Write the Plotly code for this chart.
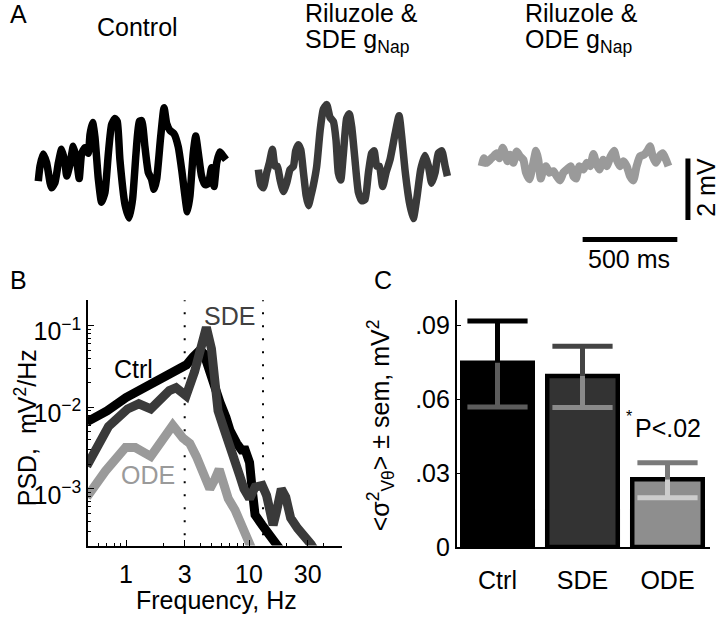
import plotly.graph_objects as go

W, H = 720, 631
FONT = "Liberation Sans, Arial, Helvetica, sans-serif"

# ---------- panel A: membrane voltage traces (ms, mV) ----------
ctrl_t = [0, 9, 26, 44, 62, 70, 88, 106, 123, 141, 150, 167, 185, 202, 216, 229, 246, 264, 273, 287,
          299, 317, 334, 352, 370, 387, 405, 417, 431, 458, 480, 498, 516, 533, 546, 563, 581, 598,
          611, 625, 646, 664, 678, 695, 716, 739, 757, 774, 787, 801, 818, 831, 845, 862, 880, 898,
          915, 928, 942, 959, 977, 991]
ctrl_v = [-0.48, 0.0, 0.40, 0.11, -0.53, -0.70, -0.53, 0.11, 0.55, 0.11, -0.32, 0.05, 0.65, 0.21, -0.40,
          0.42, 0.60, 0.42, 1.03, 1.42, 0.95, -0.42, -1.17, -0.85, 0.42, 1.35, 1.55, 1.45, 0.21, -1.25,
          -1.68, -1.06, 0.42, 1.45, 1.48, 0.63, -0.21, -0.42, -0.75, -0.42, 0.95, 1.90, 1.38, 1.16, 1.06,
          0.63, -0.11, -0.95, -1.48, -0.95, 0.42, 0.98, 0.42, -0.32, -0.60, -0.56, -0.05, -0.66, 0.11,
          0.46, 0.32, 0.21]

sde_t = [0, 12, 26, 44, 58, 74, 88, 100, 114, 132, 150, 167, 185, 197, 211, 224, 238, 252, 264, 278,
         290, 308, 326, 343, 361, 378, 396, 410, 422, 435, 449, 466, 480, 493, 510, 528, 546, 563, 581,
         598, 611, 625, 639, 656, 674, 695, 722, 743, 757, 774, 797, 818, 836, 857, 880, 898, 915, 933,
         950, 968, 986, 998]
sde_v = [-0.11, -0.60, -0.70, -0.21, 0.11, 0.55, 0.0, 0.0, -0.42, -0.82, -0.53, -0.11, 0.0, 0.50, 0.70,
         0.53, -0.21, -0.95, -1.28, -0.95, -0.63, 0.0, 1.16, 1.85, 2.0, 1.59, 1.45, 0.85, -0.21, -0.45,
         0.42, 1.55, 1.70, 1.27, 0.21, -0.85, -1.12, -1.08, -0.21, 0.42, 0.50, 0.0, 0.0, -0.66, -0.21,
         0.21, 1.06, 1.64, 0.95, -0.11, -1.16, -1.70, -1.06, -0.11, 0.35, 0.0, -0.55, -0.21, 0.42, 0.50,
         0.0, -0.32]

ode_t = [0, 12, 26, 44, 62, 79, 93, 111, 123, 136, 150, 167, 185, 202, 220, 234, 252, 269, 287, 299,
         312, 326, 340, 357, 378, 396, 414, 431, 449, 470, 484, 498, 516, 537, 554, 572, 590, 604, 621,
         642, 660, 681, 699, 713, 730, 748, 766, 783, 801, 818, 836, 857, 875, 889, 903, 920, 938, 956,
         973, 986]
ode_v = [0.0, 0.26, 0.11, 0.21, 0.32, 0.42, 0.26, 0.60, 0.42, 0.16, 0.37, 0.11, 0.48, 0.32, 0.21, -0.21,
         -0.42, 0.0, 0.50, 0.21, -0.40, -0.11, 0.0, -0.21, -0.16, -0.32, -0.46, -0.21, -0.11, 0.0, -0.32,
         -0.40, 0.0, -0.11, 0.11, 0.0, 0.40, 0.11, -0.11, 0.21, 0.0, 0.32, 0.50, 0.21, 0.0, 0.16, 0.0,
         -0.32, -0.46, 0.0, 0.32, 0.37, 0.50, 0.65, 0.32, 0.11, 0.32, 0.42, 0.21, 0.0]

# ---------- panel B: power spectral density (Hz, mV^2/Hz) ----------
ctrl_f = [0.48, 0.7, 1.0, 1.4, 1.75, 2.2, 2.7, 3.1, 3.5, 4.0, 4.3, 4.7, 5.1, 5.8, 6.5, 7.0, 7.95, 8.7,
          9.3, 10.1, 10.6, 11.2, 12.8, 14.9, 18.0]
ctrl_psd = [6.6e-3, 9e-3, 1.31e-2, 1.7e-2, 2.08e-2, 2.5e-2, 2.87e-2, 3.3e-2, 4.1e-2, 5.0e-2, 4.5e-2,
            3.0e-2, 1.8e-2, 1.15e-2, 7.5e-3, 5.2e-3, 3.6e-3, 3.0e-3, 3.0e-3, 2.1e-3, 1.0e-3, 4.8e-4,
            3.6e-4, 2.75e-4, 1.8e-4]

sde_f = [0.48, 0.72, 1.03, 1.27, 1.59, 2.0, 2.25, 2.55, 3.08, 3.61, 4.09, 4.5, 4.95, 5.27, 5.6, 6.17,
         7.0, 7.95, 8.4, 9.1, 10.1, 11.2, 12.8, 13.9, 14.8, 15.7, 16.7, 18.3, 19.9, 21.8, 24.8, 28.1,
         31.9, 34.0]
sde_psd = [1.9e-3, 5.8e-3, 9.5e-3, 1.1e-2, 9.5e-3, 1.3e-2, 1.6e-2, 1.73e-2, 1.38e-2, 2.73e-2, 6.3e-2,
           9.5e-2, 5.2e-2, 1.6e-2, 9e-3, 5.8e-3, 3.4e-3, 2.2e-3, 1.45e-3, 1.0e-3, 7.6e-4, 1.05e-3,
           1.1e-3, 8.3e-4, 4.4e-4, 3.6e-4, 5.2e-4, 1.0e-3, 7.9e-4, 4.4e-4, 3.3e-4, 2.75e-4, 2.1e-4,
           1.8e-4]

ode_f = [0.48, 0.68, 0.99, 1.19, 1.59, 1.99, 2.4, 2.9, 3.3, 3.73, 4.23, 4.8, 5.27, 5.72, 6.17, 6.78,
         7.7, 8.7, 9.7, 10.6]
ode_psd = [7.9e-4, 1.65e-3, 3.2e-3, 3.2e-3, 2.5e-3, 4.0e-3, 6.0e-3, 4.2e-3, 3.6e-3, 2.5e-3, 1.5e-3,
           1.0e-3, 1.3e-3, 1.74e-3, 1.2e-3, 7.6e-4, 5.5e-4, 3.8e-4, 2.75e-4, 1.8e-4]

theta_band = [3, 13]

# ---------- panel C: variance bars ----------
groups = ["Ctrl", "SDE", "ODE"]
var_mean = [0.0749, 0.0695, 0.0275]
sem_up = [0.0169, 0.0121, 0.0067]
sem_down = [0.0180, 0.0128, 0.0075]

scale_ms, scale_mv = 500, 2

# styles
trace_cols = ["#000000", "#3a3a3a", "#9a9a9a"]
bar_cols = ["#000000", "#333333", "#8e8e8e"]
err_up_cols = ["#000000", "#444444", "#7a7a7a"]
err_lo_cols = ["#5c5c5c", "#8a8a8a", "#cccccc"]


def px(x):
    return x / W


def py(y):
    return 1 - y / H


fig = go.Figure()

# A traces
offsets = [0, 1162, 2341]
for t, v, off, c, w in zip([ctrl_t, sde_t, ode_t], [ctrl_v, sde_v, ode_v], offsets, trace_cols, [7.5, 7.5, 8]):
    fig.add_trace(go.Scatter(x=[ti + off for ti in t], y=v, mode="lines",
                             line=dict(color=c, width=w, shape="spline", smoothing=0.5),
                             xaxis="x", yaxis="y", showlegend=False))

# scale bars
bar_t0, bar_v0 = 2874, -2.38
fig.add_trace(go.Scatter(x=[bar_t0, bar_t0 + scale_ms], y=[bar_v0, bar_v0], mode="lines",
                         line=dict(color="black", width=5), xaxis="x", yaxis="y", showlegend=False))
fig.add_trace(go.Scatter(x=[3430, 3430], y=[-1.75, -1.75 + scale_mv], mode="lines",
                         line=dict(color="black", width=5), xaxis="x", yaxis="y", showlegend=False))

# B: dotted band lines
for f in theta_band:
    fig.add_trace(go.Scatter(x=[f, f], y=[1e-5, 1], mode="lines",
                             line=dict(color="black", width=2, dash="2px,11px"),
                             xaxis="x2", yaxis="y2", showlegend=False))

for f, p, c in [(ode_f, ode_psd, trace_cols[2]), (ctrl_f, ctrl_psd, trace_cols[0]),
                (sde_f, sde_psd, trace_cols[1])]:
    fig.add_trace(go.Scatter(x=f, y=p, mode="lines", line=dict(color=c, width=9),
                             xaxis="x2", yaxis="y2", showlegend=False))

# C: bars
fig.add_trace(go.Bar(x=groups, y=var_mean, width=0.83,
                     marker=dict(color=bar_cols, line=dict(color="black", width=4.5)),
                     xaxis="x3", yaxis="y3", showlegend=False))

for i, g in enumerate(groups):
    # upper stem + cap
    fig.add_trace(go.Scatter(x=[g], y=[var_mean[i]], mode="markers", marker=dict(size=1, opacity=0),
                             error_y=dict(type="data", symmetric=False, array=[sem_up[i]], arrayminus=[0],
                                          color=err_up_cols[i], thickness=5, width=0),
                             xaxis="x3", yaxis="y3", showlegend=False))
    fig.add_trace(go.Scatter(x=[g], y=[var_mean[i] + sem_up[i]], mode="markers",
                             marker=dict(symbol="line-ew", size=43,
                                         line=dict(color=err_up_cols[i], width=5)),
                             xaxis="x3", yaxis="y3", showlegend=False))
    # lower stem + cap
    fig.add_trace(go.Scatter(x=[g], y=[var_mean[i]], mode="markers", marker=dict(size=1, opacity=0),
                             error_y=dict(type="data", symmetric=False, array=[0], arrayminus=[sem_down[i]],
                                          color=err_lo_cols[i], thickness=5, width=0),
                             xaxis="x3", yaxis="y3", showlegend=False))
    fig.add_trace(go.Scatter(x=[g], y=[var_mean[i] - sem_down[i]], mode="markers",
                             marker=dict(symbol="line-ew", size=43,
                                         line=dict(color=err_lo_cols[i], width=5)),
                             xaxis="x3", yaxis="y3", showlegend=False))

axis_common = dict(showline=True, linecolor="black", linewidth=1.5, ticks="inside", tickcolor="black",
                   ticklen=6, tickwidth=1.2, showgrid=False, zeroline=False,
                   tickfont=dict(family=FONT, size=25, color="black"))

fig.update_layout(
    width=W, height=H,
    margin=dict(l=0, r=0, t=0, b=0),
    paper_bgcolor="white", plot_bgcolor="rgba(0,0,0,0)",
    font=dict(family=FONT, size=25, color="black"),
    xaxis=dict(domain=[0, 1], range=[-202.2, 3599.3], visible=False, anchor="y"),
    yaxis=dict(domain=[py(290), py(60)], range=[-3.81, 3.492], visible=False, anchor="x"),
    xaxis2=dict(axis_common, type="log", domain=[px(88), px(342)], range=[-0.309, 1.756], anchor="y2",
                tickvals=[1, 3, 10, 30], ticktext=["1", "3", "10", "30"], ticklabelstandoff=6,
                minor=dict(ticks="inside", ticklen=3, tickcolor="black",
                           tickvals=[0.5, 0.6, 0.7, 0.8, 0.9, 2, 4, 5, 6, 7, 8, 9, 20, 40])),
    yaxis2=dict(axis_common, type="log", domain=[py(558), py(307)], range=[-3.695, -0.69], anchor="x2",
                tickvals=[1e-3, 1e-2, 1e-1], ticklabelshift=6,
                ticktext=["10<sup>\u22123</sup>", "10<sup>\u22122</sup>", "10<sup>\u22121</sup>"],
                minor=dict(ticks="inside", ticklen=3, tickcolor="black",
                           tickvals=[3e-4, 4e-4, 5e-4, 6e-4, 7e-4, 8e-4, 9e-4,
                                     2e-3, 3e-3, 4e-3, 5e-3, 6e-3, 7e-3, 8e-3, 9e-3,
                                     2e-2, 3e-2, 4e-2, 5e-2, 6e-2, 7e-2, 8e-2, 9e-2, 2e-1])),
    xaxis3=dict(axis_common, type="category", domain=[px(456.7), px(710)], range=[-0.48, 2.5],
                anchor="y3", ticks="", ticklabelstandoff=10),
    yaxis3=dict(axis_common, domain=[py(559.3), py(306.7)], range=[0, 0.1004], anchor="x3",
                tickvals=[0, 0.03, 0.06, 0.09], ticktext=["0", ".03", ".06", ".09"], ticklen=5),
)

ann = [
    dict(text="A", x=px(18), y=py(14)),
    dict(text="Control", x=px(137), y=py(28)),
    dict(text="Riluzole &amp;", x=px(303), y=py(13), xanchor="left"),
    dict(text="SDE g<sub>Nap</sub>", x=px(303), y=py(42), xanchor="left"),
    dict(text="Riluzole &amp;", x=px(523), y=py(13), xanchor="left"),
    dict(text="ODE g<sub>Nap</sub>", x=px(523), y=py(42), xanchor="left"),
    dict(text="500 ms", x=px(629), y=py(265)),
    dict(text="2 mV", x=px(706), y=py(192), textangle=-90),
    dict(text="B", x=px(18), y=py(286)),
    dict(text="C", x=px(383), y=py(286)),
    dict(text="PSD,  mV<sup>2</sup>/Hz", x=px(26), y=py(438), textangle=-90),
    dict(text="Frequency, Hz", x=px(216), y=py(614)),
    dict(text="Ctrl", x=px(133), y=py(377)),
    dict(text="SDE", x=px(229), y=py(323), font=dict(color="#404040")),
    dict(text="ODE", x=px(148), y=py(486), font=dict(color="#9a9a9a")),
    dict(text="&lt;\u03c3<sup>2</sup><sub>V\u03b8</sub>&gt; \u00b1 sem, mV<sup>2</sup>",
         x=px(381), y=py(435), textangle=-90),
    dict(text="*", x=px(629), y=py(426), font=dict(size=16)),
    dict(text="P&lt;.02", x=px(668), y=py(438)),
]
for a in ann:
    base = dict(xref="paper", yref="paper", showarrow=False, xanchor="center", yanchor="middle",
                font=dict(family=FONT, size=25, color="black"))
    f = a.pop("font", {})
    base.update(a)
    base["font"] = dict(base["font"], **f)
    fig.add_annotation(**base)

fig.write_html("out.html", config={"displayModeBar": False},
               post_script="document.body.style.margin='0';document.body.style.overflow='hidden';")
